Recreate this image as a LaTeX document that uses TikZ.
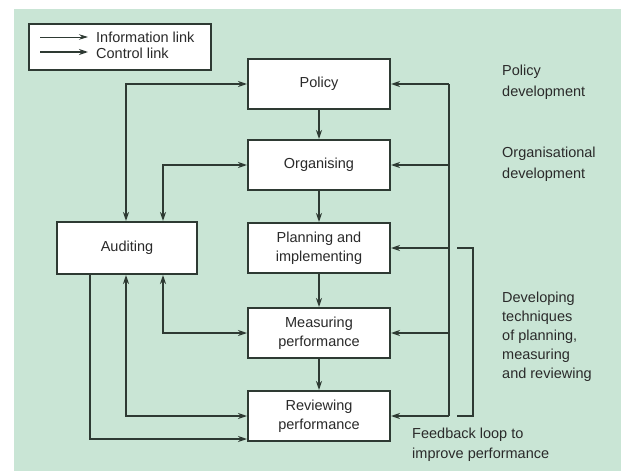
\documentclass[tikz,border=0pt]{standalone}
\usepackage{fontspec}
\setmainfont{Liberation Sans}
\usetikzlibrary{arrows.meta}
\definecolor{bg}{HTML}{C9E5D5}
\definecolor{ln}{HTML}{2E3A33}
\definecolor{tx}{HTML}{2A2A2A}
\tikzset{
  box/.style={draw=ln, line width=2pt, fill=white, minimum width=142pt, minimum height=50pt, align=center, inner sep=0pt, text=tx, font=\fontsize{14.5}{18.5}\selectfont},
  lnk/.style={draw=ln, line width=2pt, -{Stealth[length=9pt,width=6pt]}},
  dlnk/.style={draw=ln, line width=2pt, {Stealth[length=9pt,width=6pt]}-{Stealth[length=9pt,width=6pt]}},
  plain/.style={draw=ln, line width=2pt},
  lbl/.style={text=tx, align=left, anchor=north west, inner sep=0pt, font=\fontsize{14.5}{21}\selectfont}
}
\begin{document}
\begin{tikzpicture}[x=1pt,y=-1pt]
\useasboundingbox (0,0) rectangle (621,471);
\fill[bg] (14,9) rectangle (621,471);
% legend
\node[draw=ln, line width=2pt, fill=white, minimum width=182pt, minimum height=46pt, inner sep=0pt] (leg) at (120,47) {};
\coordinate (l1a) at (40,37); \coordinate (l1b) at (88,37);
\coordinate (l2a) at (40,52); \coordinate (l2b) at (88,52);
\draw[draw=ln, line width=1pt, -{Stealth[length=9pt,width=5.5pt]}] (l1a) -- (l1b);
\draw[draw=ln, line width=2pt, -{Stealth[length=9pt,width=6pt]}] (l2a) -- (l2b);
\node[text=tx, anchor=west, inner sep=0pt, font=\fontsize{14.5}{16}\selectfont] (lt1) at (96,37) {Information link};
\node[text=tx, anchor=west, inner sep=0pt, font=\fontsize{14.5}{16}\selectfont] (lt2) at (96,53) {Control link};
% boxes
\node[box] (pol) at (319,84) {Policy};
\node[box] (org) at (319,165) {Organising};
\node[box] (pla) at (319,248) {Planning and\\implementing};
\node[box] (mea) at (319,333) {Measuring\\performance};
\node[box] (rev) at (319,416) {Reviewing\\performance};
\node[box, minimum width=140pt, minimum height=52pt] (aud) at (127,248) {Auditing};
% vertical chain
\draw[lnk] (pol) -- (org);
\draw[lnk] (org) -- (pla);
\draw[lnk] (pla) -- (mea);
\draw[lnk] (mea) -- (rev);
% left links
\coordinate (xa) at (126,0);
\coordinate (xb) at (163,0);
\coordinate (xc) at (90,0);
\coordinate (ylow) at (0,439);
\draw[dlnk] (aud.north -| xa) |- (pol.west);
\draw[dlnk] (aud.north -| xb) |- (org.west);
\draw[dlnk] (aud.south -| xb) |- (mea.west);
\draw[dlnk] (aud.south -| xa) |- (rev.west);
\draw[lnk] (aud.south -| xc) |- (rev.west |- ylow);
% right bus
\coordinate (xr) at (449,0);
\draw[plain] (pol.east -| xr) -- (rev.east -| xr);
\draw[lnk] (pol.east -| xr) -- (pol.east);
\draw[lnk] (org.east -| xr) -- (org.east);
\draw[lnk] (pla.east -| xr) -- (pla.east);
\draw[lnk] (mea.east -| xr) -- (mea.east);
\draw[lnk] (rev.east -| xr) -- (rev.east);
% bracket
\coordinate (xk1) at (457,0);
\coordinate (xk2) at (473,0);
\draw[plain] (pla.east -| xk1) -- (pla.east -| xk2) -- (rev.east -| xk2) -- (rev.east -| xk1);
% labels
\node[lbl] (t1) at (502,65) {Policy\\development};
\node[lbl] (t2) at (502,147) {Organisational\\development};
\node[lbl, font=\fontsize{14.5}{19}\selectfont] (t3) at (502,292) {Developing\\techniques\\of planning,\\measuring\\and reviewing};
\node[lbl, font=\fontsize{14.5}{20}\selectfont] (t4) at (412,428) {Feedback loop to\\improve performance};
\end{tikzpicture}
\end{document}
